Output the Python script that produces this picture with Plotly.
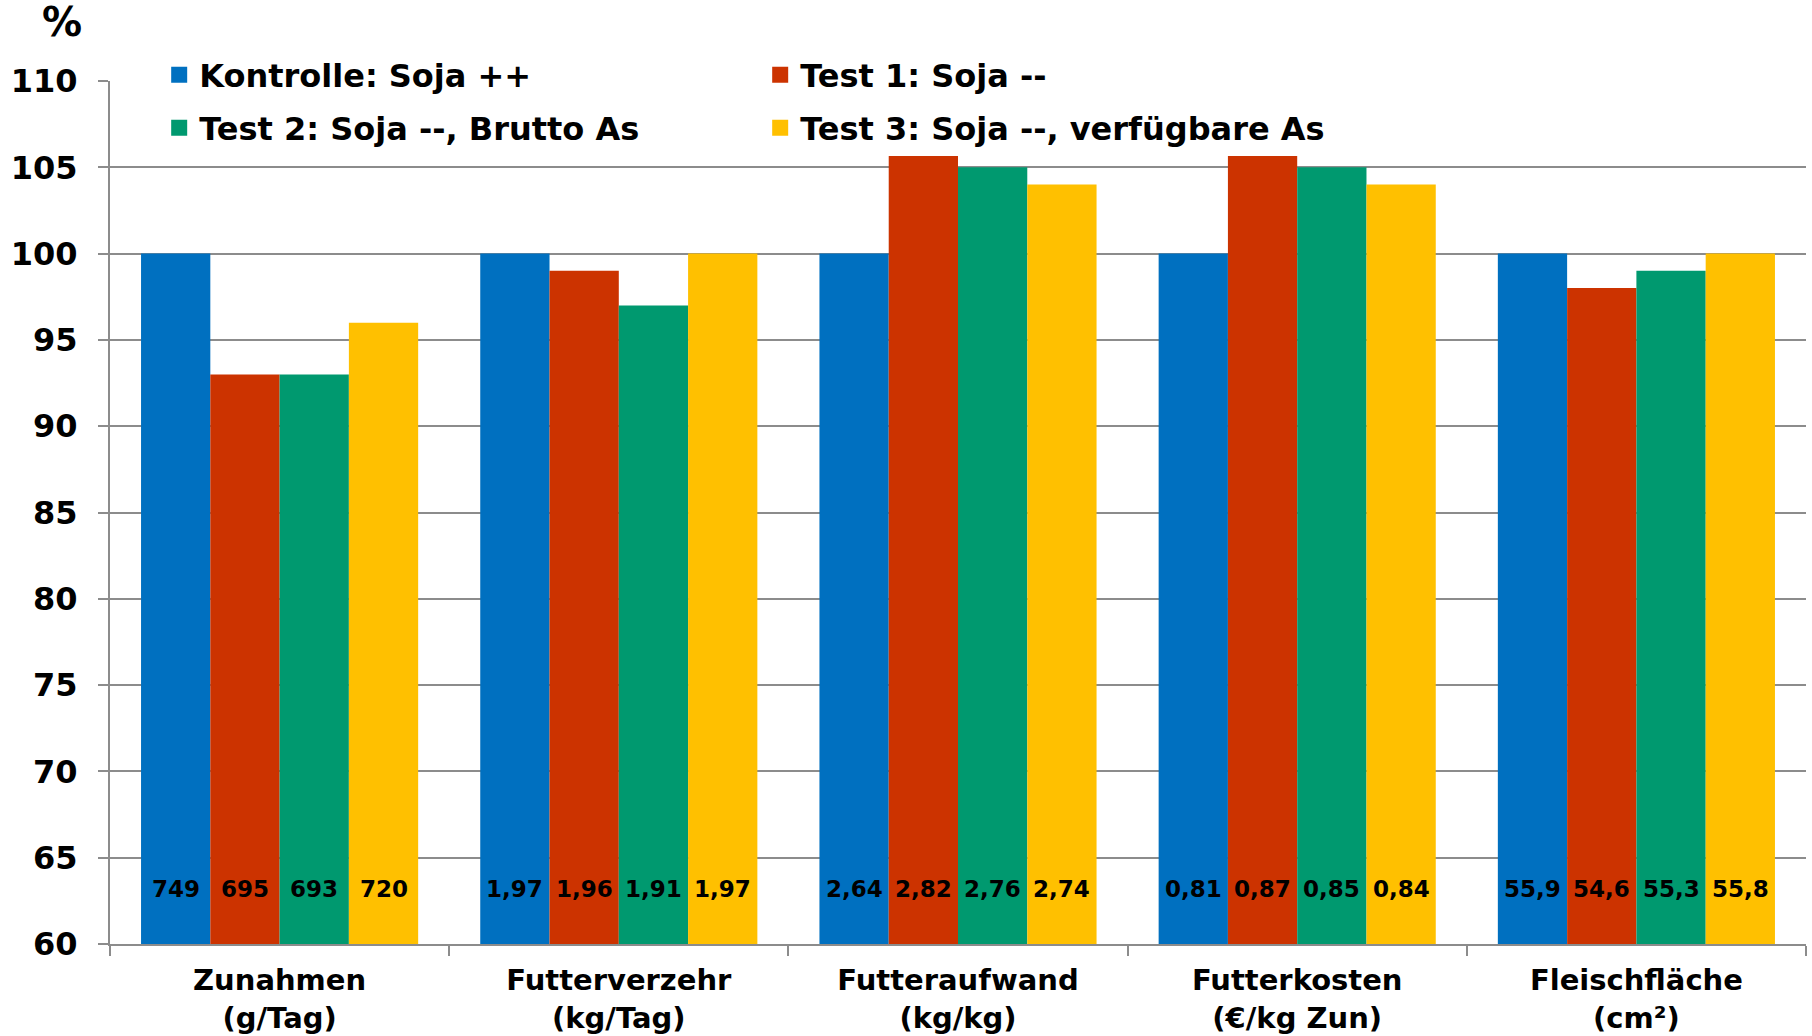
import plotly.graph_objects as go

categories = ["Zunahmen<br>(g/Tag)", "Futterverzehr<br>(kg/Tag)", "Futteraufwand<br>(kg/kg)",
              "Futterkosten<br>(€/kg Zun)", "Fleischfläche<br>(cm²)"]
series_names = ["Kontrolle: Soja ++", "Test 1: Soja --", "Test 2: Soja --, Brutto As",
                "Test 3: Soja --, verfügbare As"]
kontrolle = [100, 100, 100, 100, 100]
test1 = [93, 99, 105.7, 105.7, 98]
test2 = [93, 97, 105, 105, 99]
test3 = [96, 100, 104, 104, 100]
labels_kontrolle = ["749", "1,97", "2,64", "0,81", "55,9"]
labels_test1 = ["695", "1,96", "2,82", "0,87", "54,6"]
labels_test2 = ["693", "1,91", "2,76", "0,85", "55,3"]
labels_test3 = ["720", "1,97", "2,74", "0,84", "55,8"]
y_ticks = [60, 65, 70, 75, 80, 85, 90, 95, 100, 105, 110]

colors = ["#0070C0", "#CC3300", "#00996F", "#FFC000"]
values = [kontrolle, test1, test2, test3]
labels = [labels_kontrolle, labels_test1, labels_test2, labels_test3]
legend_ids = ["legend", "legend", "legend2", "legend2"]

FONT = "DejaVu Sans"
BARGAP = 0.183
GRID = "#8c8c8c"

fig = go.Figure()
for name, vals, col in zip(series_names, values, colors):
    fig.add_trace(go.Bar(x=categories, y=vals, name=name, marker=dict(color=col, line=dict(width=0)),
                         showlegend=False, hoverinfo="skip"))

# legend-only entries (larger square symbols)
for name, col, lg in zip(series_names, colors, legend_ids):
    fig.add_trace(go.Scatter(x=[None], y=[None], mode="markers", name=name, legend=lg,
                             marker=dict(symbol="square", size=16, color=col), hoverinfo="skip"))

# value labels near the base of each bar
w = (1 - BARGAP) / len(values)
label_y = 63.2
for j, labs in enumerate(labels):
    for i, t in enumerate(labs):
        fig.add_annotation(x=i + (j - (len(values) - 1) / 2) * w, y=label_y, xref="x", yref="y",
                           text=t, showarrow=False, xanchor="center", yanchor="middle",
                           font=dict(family=FONT, size=23, color="black", weight="bold"))

fig.add_annotation(x=-0.0283, y=1.068, xref="paper", yref="paper", text="%", showarrow=False,
                   xanchor="center", yanchor="middle",
                   font=dict(family=FONT, size=40, color="black", weight="bold"))

legend_common = dict(orientation="h", xanchor="left", yanchor="middle", x=0.029,
                     bgcolor="white", borderwidth=0, entrywidth=556, entrywidthmode="pixels",
                     font=dict(family=FONT, size=32, color="black", weight="bold"),
                     itemclick=False, itemdoubleclick=False)

fig.update_layout(
    width=1812, height=1036,
    margin=dict(l=110, r=6, t=81, b=92, autoexpand=False),
    paper_bgcolor="white", plot_bgcolor="white",
    barmode="group", bargap=BARGAP, bargroupgap=0,
    showlegend=True,
    legend=dict(y=1.007, **legend_common),
    legend2=dict(y=0.9455, **legend_common),
    xaxis=dict(type="category", showline=True, linecolor=GRID, linewidth=2,
               ticks="outside", tickson="boundaries", ticklen=10, tickcolor=GRID, tickwidth=2,
               tickfont=dict(family=FONT, size=29, color="black", weight="bold"),
               ticklabelstandoff=9, showgrid=False),
    yaxis=dict(range=[60, 110], tickvals=y_ticks, showline=True, linecolor=GRID, linewidth=2,
               ticks="outside", ticklen=10, tickcolor=GRID, tickwidth=2,
               showgrid=True, gridcolor=GRID, gridwidth=2, zeroline=False,
               tickfont=dict(family=FONT, size=32, color="black", weight="bold"),
               ticklabelstandoff=14),
)

fig.write_html("out.html")
